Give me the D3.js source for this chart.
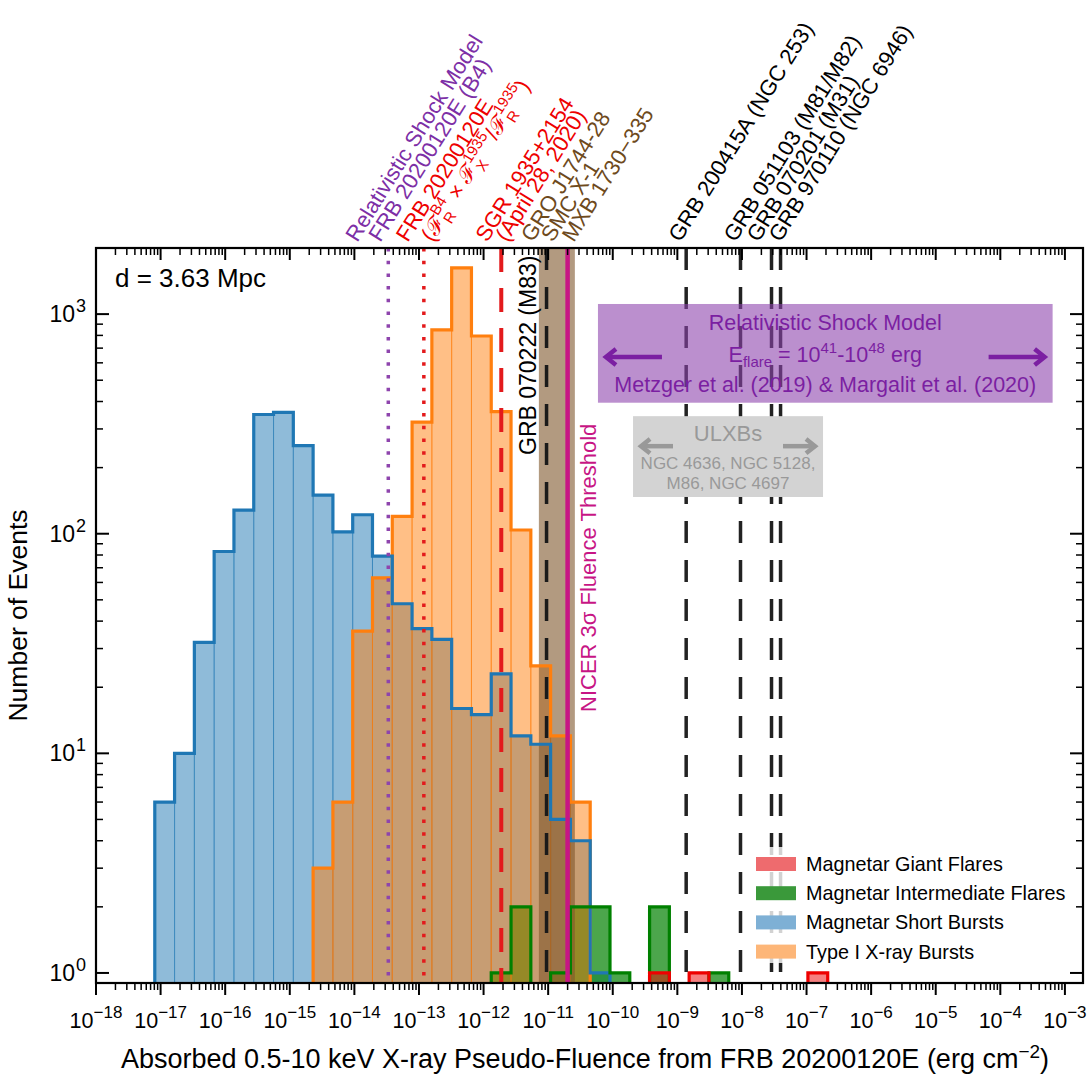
<!DOCTYPE html>
<html><head><meta charset="utf-8">
<script src="https://cdn.jsdelivr.net/npm/d3@7"></script>
<style>body{margin:0;background:#fff} svg{font-family:"Liberation Sans",Arial,Helvetica,sans-serif}</style>
</head><body><svg id="c" width="1091" height="1080"></svg>
<script>
// ---------------- DATA ----------------
const binStartLog = -17.09;   // log10 of first bin edge
const binWidthLog = 0.3064;   // bin width in dex
// counts per bin (bin index from 0)
const shortBursts = [6,10,32,83,128,349,357,252,150,102,122,79,48,37,33,16,15,23,12,11,5,4,1];
const typeIBursts = [0,0,0,0,0,0,0,0,3,6,36,63,120,322,847,1625,795,360,104,25,12,6];
const intermediateFlares = [0,0,0,0,0,0,0,0,0,0,0,0,0,0,0,0,0,1,2,0,1,2,2,1,0,2,0,0,1];
const giantFlares = [0,0,0,0,0,0,0,0,0,0,0,0,0,0,0,0,0,0,0,0,0,0,0,0,0,1,0,1,0,0,0,0,0,1];
const xTickExps = [-18,-17,-16,-15,-14,-13,-12,-11,-10,-9,-8,-7,-6,-5,-4,-3];
const yTickExps = [0,1,2,3];
// reference fluences (erg cm^-2)
const relShockB4 = 3.35e-14;
const frbScaled = 1.19e-13;
const sgr1935 = 1.88e-12;
const xrbBand = [7.18e-12, 2.59e-11];
const grb070222 = 9.44e-12;
const nicerThreshold = 2.0e-11;
const grbLines = [1.37e-9, 9.5e-9, 2.87e-8, 3.96e-8];
const relBoxX = [5.9e-11, 6.45e-4], relBoxY = [395, 1112];
const ulxBoxX = [2.06e-10, 1.8e-7], ulxBoxY = [147, 343];

// ---------------- SETUP ----------------
const svg = d3.select("#c");
const L = 96, R = 1083, T = 248, B = 983;
const x = d3.scaleLog().domain([1e-18, Math.pow(10, -2.72)]).range([L, R]);
const y = d3.scaleLog().domain([0.9, 2000]).range([B, T]);
const edge = i => Math.pow(10, binStartLog + i * binWidthLog);

svg.append("defs").append("clipPath").attr("id", "clip")
  .append("rect").attr("x", L).attr("y", T).attr("width", R - L).attr("height", B - T);
const plot = svg.append("g").attr("clip-path", "url(#clip)");

const C = {blue: "#1f77b4", orange: "#ff7f0e", green: "#008000", red: "#ee0000",
  purple: "#8e44ad", purpleText: "#7d2fa6", boxText: "#7b1fa2", magenta: "#c71585",
  brown: "#7f572b", brownText: "#6e4a1c", gray: "#999999"};

function drawBars(counts, color, op, sop) {
  plot.append("g").selectAll("rect")
    .data(counts.map((c, i) => ({c, i})).filter(d => d.c > 0))
    .join("rect")
    .attr("x", d => x(edge(d.i))).attr("width", d => x(edge(d.i + 1)) - x(edge(d.i)))
    .attr("y", d => y(d.c)).attr("height", d => y(0.9) - y(d.c))
    .attr("fill", color).attr("fill-opacity", op)
    .attr("stroke", color).attr("stroke-opacity", sop).attr("stroke-width", 1);
}
function drawStep(counts, color, w) {
  const yb = B + 6;
  const pts = [];
  let first = counts.findIndex(c => c > 0);
  let last = counts.length - 1; while (counts[last] <= 0) last--;
  pts.push([x(edge(first)), yb]);
  for (let i = first; i <= last; i++) {
    const yy = counts[i] > 0 ? y(counts[i]) : yb;
    pts.push([x(edge(i)), yy]); pts.push([x(edge(i + 1)), yy]);
  }
  pts.push([x(edge(last + 1)), yb]);
  plot.append("path").attr("d", d3.line()(pts)).attr("fill", "none")
    .attr("stroke", color).attr("stroke-width", w).attr("stroke-linejoin", "miter");
}

// fills
drawBars(shortBursts, C.blue, 0.5, 0.5);
drawBars(intermediateFlares, C.green, 0.7, 0);
drawBars(typeIBursts, C.orange, 0.5, 0.6);
drawBars(giantFlares, C.red, 0.5, 0);
// X-ray burst band
plot.append("rect").attr("x", x(xrbBand[0])).attr("width", x(xrbBand[1]) - x(xrbBand[0]))
  .attr("y", T).attr("height", B - T).attr("fill", C.brown).attr("fill-opacity", 0.6);
// outlines
drawStep(typeIBursts, C.orange, 3.2);
drawStep(shortBursts, C.blue, 3.2);
drawStep(intermediateFlares, C.green, 3.2);
drawStep(giantFlares, C.red, 3.2);

// vertical reference lines
function vline(v, color, w, dash) {
  plot.append("line").attr("x1", x(v)).attr("x2", x(v)).attr("y1", T).attr("y2", B)
    .attr("stroke", color).attr("stroke-width", w).attr("stroke-dasharray", dash);
}
vline(relShockB4, C.purple, 3.5, "3.5,9.2");
vline(frbScaled, "#e31a1c", 3.5, "3.5,9.2");
vline(sgr1935, "#e31a1c", 4, "24,16");
vline(grb070222, "#1a1a1a", 3.5, "22,17");
vline(nicerThreshold, C.magenta, 4.5, null);
grbLines.forEach(v => vline(v, "#222", 3.5, "22,17"));

// Relativistic shock model box
const rb = {x0: x(relBoxX[0]), x1: x(relBoxX[1]), y0: y(relBoxY[1]), y1: y(relBoxY[0])};
plot.append("rect").attr("x", rb.x0).attr("y", rb.y0).attr("width", rb.x1 - rb.x0).attr("height", rb.y1 - rb.y0)
  .attr("fill", C.purple).attr("fill-opacity", 0.6);
const rcx = (rb.x0 + rb.x1) / 2;
const rt = svg.append("g").attr("fill", C.boxText).attr("font-size", 21.5).attr("text-anchor", "middle");
rt.append("text").attr("x", rcx).attr("y", rb.y0 + 26).text("Relativistic Shock Model");
const et = rt.append("text").attr("x", rcx).attr("y", rb.y0 + 58);
et.append("tspan").text("E");
et.append("tspan").attr("font-size", 15).attr("dy", 5).text("flare");
et.append("tspan").attr("dy", -5).text(" = 10");
et.append("tspan").attr("font-size", 15).attr("dy", -9).text("41");
et.append("tspan").attr("dy", 9).text("-10");
et.append("tspan").attr("font-size", 15).attr("dy", -9).text("48");
et.append("tspan").attr("dy", 9).text(" erg");
rt.append("text").attr("x", rcx).attr("y", rb.y0 + 88).text("Metzger et al. (2019) & Margalit et al. (2020)");

function arrow(g, xs, xe, yy, color, w, hs) {
  const dir = Math.sign(xe - xs);
  g.append("line").attr("x1", xs).attr("x2", xe - dir * 2).attr("y1", yy).attr("y2", yy)
    .attr("stroke", color).attr("stroke-width", w);
  g.append("path").attr("d", `M${xe - dir * hs},${yy - hs * 0.8} L${xe},${yy} L${xe - dir * hs},${yy + hs * 0.8}`)
    .attr("fill", "none").attr("stroke", color).attr("stroke-width", w).attr("stroke-linejoin", "miter");
}
const ag = svg.append("g");
const ray = rb.y0 + 53;
arrow(ag, rb.x0 + 64, rb.x0 + 8, ray, C.boxText, 4.5, 10);
arrow(ag, rb.x1 - 64, rb.x1 - 8, ray, C.boxText, 4.5, 10);

// ULX box
const ub = {x0: x(ulxBoxX[0]), x1: x(ulxBoxX[1]), y0: y(ulxBoxY[1]), y1: y(ulxBoxY[0])};
plot.append("rect").attr("x", ub.x0).attr("y", ub.y0).attr("width", ub.x1 - ub.x0).attr("height", ub.y1 - ub.y0)
  .attr("fill", "#d3d3d3");
const ucx = (ub.x0 + ub.x1) / 2;
const ut = svg.append("g").attr("fill", C.gray).attr("text-anchor", "middle");
ut.append("text").attr("x", ucx).attr("y", ub.y0 + 25).attr("font-size", 22).text("ULXBs");
ut.append("text").attr("x", ucx).attr("y", ub.y0 + 53).attr("font-size", 17).text("NGC 4636, NGC 5128,");
ut.append("text").attr("x", ucx).attr("y", ub.y0 + 73).attr("font-size", 17).text("M86, NGC 4697");
arrow(ag, ub.x0 + 40, ub.x0 + 8, ub.y0 + 30, C.gray, 4.5, 9);
arrow(ag, ub.x1 - 40, ub.x1 - 8, ub.y0 + 30, C.gray, 4.5, 9);

// "d = 3.63 Mpc"
svg.append("text").attr("x", L + 19).attr("y", T + 39).attr("font-size", 26).text("d = 3.63 Mpc");

// Legend
const legendItems = [
  {label: "Magnetar Giant Flares", color: "#ee6b6e"},
  {label: "Magnetar Intermediate Flares", color: "#3a993a"},
  {label: "Magnetar Short Bursts", color: "#7eb0d5"},
  {label: "Type I X-ray Bursts", color: "#fdb678"}
];
const lg = svg.append("g");
lg.append("rect").attr("x", 748).attr("y", 847).attr("width", 328).attr("height", 116)
  .attr("fill", "#fff").attr("fill-opacity", 0.8);
legendItems.forEach((d, i) => {
  const yy = 864 + i * 29.2;
  lg.append("rect").attr("x", 756).attr("y", yy - 7).attr("width", 40).attr("height", 14).attr("fill", d.color);
  lg.append("text").attr("x", 806).attr("y", yy + 7).attr("font-size", 19.8).text(d.label);
});

// Spines
svg.append("rect").attr("x", L).attr("y", T).attr("width", R - L).attr("height", B - T)
  .attr("fill", "none").attr("stroke", "#000").attr("stroke-width", 2.2);

// ticks
const tg = svg.append("g").attr("stroke", "#000");
xTickExps.forEach(e => {
  const v = Math.pow(10, e), px = x(v);
  tg.append("line").attr("x1", px).attr("x2", px).attr("y1", B).attr("y2", B + 12).attr("stroke-width", 2);
  tg.append("line").attr("x1", px).attr("x2", px).attr("y1", T).attr("y2", T + 12).attr("stroke-width", 2);
});
for (let e = -18; e <= -3; e++) for (let j = 2; j <= 9; j++) {
  const v = j * Math.pow(10, e); if (v > x.domain()[1]) continue;
  const px = x(v);
  tg.append("line").attr("x1", px).attr("x2", px).attr("y1", B).attr("y2", B + 7).attr("stroke-width", 1.5);
  tg.append("line").attr("x1", px).attr("x2", px).attr("y1", T).attr("y2", T + 7).attr("stroke-width", 1.5);
}
yTickExps.forEach(e => {
  const py = y(Math.pow(10, e));
  tg.append("line").attr("x1", L).attr("x2", L + 13).attr("y1", py).attr("y2", py).attr("stroke-width", 2);
  tg.append("line").attr("x1", R).attr("x2", R - 13).attr("y1", py).attr("y2", py).attr("stroke-width", 2);
});
for (let e = 0; e <= 3; e++) for (let j = 1; j <= 9; j++) {
  const v = j * Math.pow(10, e); if (j === 1 || v < 0.9 || v > 2000) continue;
  const py = y(v);
  tg.append("line").attr("x1", L).attr("x2", L + 7).attr("y1", py).attr("y2", py).attr("stroke-width", 1.5);
  tg.append("line").attr("x1", R).attr("x2", R - 7).attr("y1", py).attr("y2", py).attr("stroke-width", 1.5);
}
// tick labels
xTickExps.forEach(e => {
  const t = svg.append("text").attr("x", x(Math.pow(10, e))).attr("y", B + 45)
    .attr("font-size", 21.5).attr("text-anchor", "middle");
  t.append("tspan").text("10");
  t.append("tspan").attr("font-size", 17).attr("dy", -10).text("\u2212" + Math.abs(e));
});
yTickExps.forEach(e => {
  const t = svg.append("text").attr("x", L - 10).attr("y", y(Math.pow(10, e)) + 8)
    .attr("font-size", 23).attr("text-anchor", "end");
  t.append("tspan").text("10");
  t.append("tspan").attr("font-size", 18).attr("dx", 1).attr("dy", -10).text(String(e));
});
// axis labels
svg.append("text").attr("transform", `translate(27,${(T + B) / 2}) rotate(-90)`)
  .attr("font-size", 26.5).attr("text-anchor", "middle").text("Number of Events");
const xl = svg.append("text").attr("x", 585).attr("y", 1068).attr("font-size", 27).attr("text-anchor", "middle");
xl.append("tspan").text("Absorbed 0.5-10 keV X-ray Pseudo-Fluence from FRB 20200120E (erg cm");
xl.append("tspan").attr("font-size", 19).attr("dy", -10).text("\u22122");
xl.append("tspan").attr("dy", 10).text(")");

// vertical labels inside plot
svg.append("text").attr("transform", `translate(${x(grb070222) - 11},455) rotate(-90)`)
  .attr("font-size", 23).attr("fill", "#000").text("GRB 070222 (M83)");
svg.append("text").attr("transform", `translate(${x(nicerThreshold) + 28},712) rotate(-90)`)
  .attr("font-size", 22).attr("fill", C.magenta).text("NICER 3\u03C3 Fluence Threshold");

// top rotated labels
const bandMid = Math.sqrt(xrbBand[0] * xrbBand[1]);
const topLabels = [
  {text: "Relativistic Shock Model", ref: relShockB4, dx: -31, color: C.purpleText},
  {text: "FRB 20200120E (B4)", ref: relShockB4, dx: -8, color: C.purpleText},
  {text: "FRB 20200120E", ref: frbScaled, dx: -16, color: C.red},
  {text: "MATH", ref: frbScaled, dx: 9, color: C.red},
  {text: "SGR 1935+2154", ref: sgr1935, dx: -14, color: C.red},
  {text: "(April 28, 2020)", ref: sgr1935, dx: 6, color: C.red},
  {text: "GRO J1744-28", ref: bandMid, dx: -24, color: C.brownText},
  {text: "SMC X-1", ref: bandMid, dx: -4, color: C.brownText},
  {text: "MXB 1730\u2212335", ref: bandMid, dx: 17, color: C.brownText},
  {text: "GRB 200415A (NGC 253)", ref: grbLines[0], dx: -6, color: "#000"},
  {text: "GRB 051103 (M81/M82)", ref: grbLines[1], dx: -5, color: "#000"},
  {text: "GRB 070201 (M31)", ref: grbLines[2], dx: -13, color: "#000"},
  {text: "GRB 970110 (NGC 6946)", ref: grbLines[3], dx: 0, color: "#000"}
];
const ANG = -58;
topLabels.forEach(d => {
  const t = svg.append("text").attr("transform", `translate(${x(d.ref) + d.dx},243) rotate(${ANG})`)
    .attr("font-size", 22).attr("fill", d.color);
  if (d.text !== "MATH") { t.text(d.text); return; }
  const F = "\u2131";
  const parts = [["(", null, null], [F, "R", "B4"], [" \u00D7 ", null, null], [F, "X", "1935"], ["/", null, null], [F, "R", "1935"], [")", null, null]];
  let pendingDy = 0;
  parts.forEach(p => {
    t.append("tspan").attr("dy", pendingDy).text(p[0]); pendingDy = 0;
    if (p[1]) {
      t.append("tspan").attr("font-size", 15).attr("dy", 6).text(p[1]);
      const subW = p[1] === "R" ? 10.8 : 10;
      t.append("tspan").attr("font-size", 15).attr("dx", -subW).attr("dy", -16).text(p[2]);
      pendingDy = 10;
    }
  });
});
</script></body></html>
